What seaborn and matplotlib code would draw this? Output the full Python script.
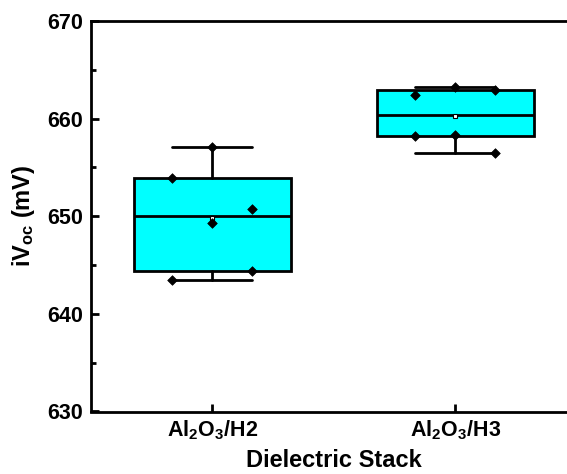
import numpy as np
import pandas as pd
import matplotlib
matplotlib.use("Agg")
import matplotlib.pyplot as plt
from matplotlib import cbook
import seaborn as sns

# ---- data ----
categories = ["Al$_2$O$_3$/H2", "Al$_2$O$_3$/H3"]
h2_voc = [657.1, 653.9, 650.7, 649.3, 644.4, 643.5]
h3_voc = [663.2, 662.9, 662.4, 658.3, 658.2, 656.5]
h2_lane = [0, -1, 1, 0, 1, -1]
h3_lane = [0, 1, -1, 0, -1, 1]
y_ticks = [630, 640, 650, 660, 670]

sns.set_theme(style="ticks")
plt.rcParams.update({
    "font.family": ["Liberation Sans", "DejaVu Sans"],
    "font.weight": "bold",
    "axes.labelweight": "bold",
    "text.color": "black",
    "axes.labelcolor": "black",
    "axes.edgecolor": "black",
    "xtick.color": "black",
    "ytick.color": "black",
    "mathtext.fontset": "custom",
    "mathtext.rm": "Liberation Sans:bold",
    "mathtext.it": "Liberation Sans:bold",
    "mathtext.bf": "Liberation Sans:bold",
    "mathtext.sf": "Liberation Sans:bold",
})

groups = [h2_voc, h3_voc]
lanes = [h2_lane, h3_lane]
rows = []
for gi, (vals, ln) in enumerate(zip(groups, lanes)):
    for v, l in zip(vals, ln):
        rows.append({"group": gi, "value": v, "lane": l})
df = pd.DataFrame(rows)
lane_step = 0.165
df["xpos"] = df["group"] + df["lane"] * lane_step

fig = plt.figure(figsize=(5.67, 4.74), dpi=100)
ax = fig.add_axes([91 / 567, 62.5 / 474, (576.5 - 91) / 567, 390.5 / 474])

stats = []
for vals in groups:
    st = cbook.boxplot_stats(np.array(vals), whis=(0, 100))[0]
    st["q1"] = np.percentile(vals, 25, method="inverted_cdf")
    st["q3"] = np.percentile(vals, 75, method="inverted_cdf")
    st["fliers"] = np.array([])
    stats.append(st)

ax.bxp(stats, positions=[0, 1], widths=0.646, capwidths=0.33,
       patch_artist=True, showmeans=True, showfliers=False,
       boxprops=dict(facecolor="#00FFFF", edgecolor="black", linewidth=2),
       medianprops=dict(color="black", linewidth=2),
       whiskerprops=dict(color="black", linewidth=2),
       capprops=dict(color="black", linewidth=2),
       meanprops=dict(marker="s", markerfacecolor="white",
                      markeredgecolor="black", markersize=3.5,
                      markeredgewidth=0.8))

sns.scatterplot(data=df, x="xpos", y="value", marker="D", color="black",
                edgecolor="black", s=24, linewidth=0.5, ax=ax,
                legend=False, zorder=5)

ax.set_xlim(-0.5, 1.5)
ax.set_ylim(630, 670)
ax.set_yticks(y_ticks)
ax.set_yticks(np.arange(635, 670, 10), minor=True)
ax.set_xticks([0, 1])
ax.set_xticklabels(categories)
ax.tick_params(axis="both", which="major", direction="in", length=6,
               width=2, labelsize=15.5, colors="black")
ax.tick_params(axis="y", which="minor", direction="in", length=3.5, width=2)
ax.tick_params(axis="y", pad=6)
ax.tick_params(axis="x", pad=5)
for lab in ax.get_xticklabels() + ax.get_yticklabels():
    lab.set_fontweight("bold")
for sp in ax.spines.values():
    sp.set_linewidth(2)
    sp.set_color("black")
    sp.set_visible(True)

ax.set_xlabel("Dielectric Stack", fontsize=17, fontweight="bold", labelpad=5)
ax.set_ylabel("iV$_{oc}$ (mV)", fontsize=17, fontweight="bold", labelpad=7)

fig.savefig("out.png", dpi=100)
